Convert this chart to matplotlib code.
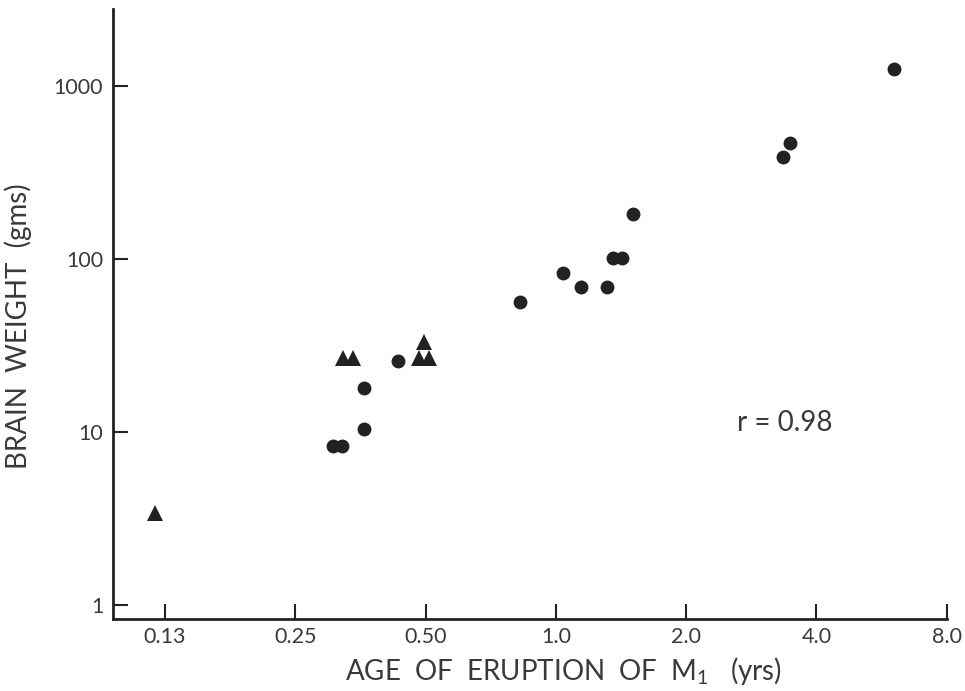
import matplotlib
matplotlib.use("Agg")
import matplotlib.pyplot as plt

# data (age of M1 eruption in yrs, brain weight in g)
circle_age = [0.306, 0.321, 0.360, 0.361, 0.432, 0.828, 1.041, 1.145, 1.315,
              1.358, 1.424, 1.508, 3.34, 3.47, 6.06]
circle_brain = [8.3, 8.3, 10.4, 17.9, 25.7, 56.4, 83.0, 68.9, 68.9,
                101, 101, 182, 389, 469, 1254]
tri_age = [0.1185, 0.322, 0.340, 0.497, 0.4835, 0.510]
tri_brain = [3.4, 26.7, 26.7, 33.1, 26.8, 26.8]

xticks = [0.125, 0.25, 0.5, 1.0, 2.0, 4.0, 8.0]
xticklabels = ["0.13", "0.25", "0.50", "1.0", "2.0", "4.0", "8.0"]
yticks = [1, 10, 100, 1000]
yticklabels = ["1", "10", "100", "1000"]

plt.rcParams['font.family'] = ['Lato', 'DejaVu Sans']
plt.rcParams['mathtext.default'] = 'regular'

ink = '#222222'
txt = '#3a3a3a'
fig = plt.figure(figsize=(9.65, 6.91), dpi=100)
ax = fig.add_axes([0.117, 0.104, 0.864, 0.883])

ax.plot(circle_age, circle_brain, 'o', color=ink, markersize=10, markeredgewidth=0)
ax.plot(tri_age, tri_brain, '^', color=ink, markersize=11, markeredgewidth=0)

ax.set_xscale('log')
ax.set_yscale('log')
ax.set_xlim(0.0947, 8.0)
ax.set_ylim(0.83, 2790)

ax.set_xticks(xticks)
ax.set_xticklabels(xticklabels)
ax.set_yticks(yticks)
ax.set_yticklabels(yticklabels)
ax.minorticks_off()

ax.tick_params(direction='in', length=11, width=1.5, color=ink,
               labelsize=15.5, labelcolor=txt)
ax.tick_params(axis='x', pad=6)
ax.tick_params(axis='y', pad=7)

for side in ['top', 'right']:
    ax.spines[side].set_visible(False)
for side in ['left', 'bottom']:
    ax.spines[side].set_linewidth(2)
    ax.spines[side].set_color(ink)

ax.set_xlabel("AGE  OF  ERUPTION  OF  M$_1$   (yrs)", fontsize=20, color=txt)
ax.xaxis.set_label_coords(0.54, -0.058)
ax.set_ylabel("BRAIN  WEIGHT  (gms)", fontsize=20, color=txt)
ax.yaxis.set_label_coords(-0.097, 0.48)

ax.text(0.749, 0.321, "r = 0.98", transform=ax.transAxes, ha='left', va='center',
        fontsize=20, color=txt)

fig.savefig("out.png", dpi=100)
